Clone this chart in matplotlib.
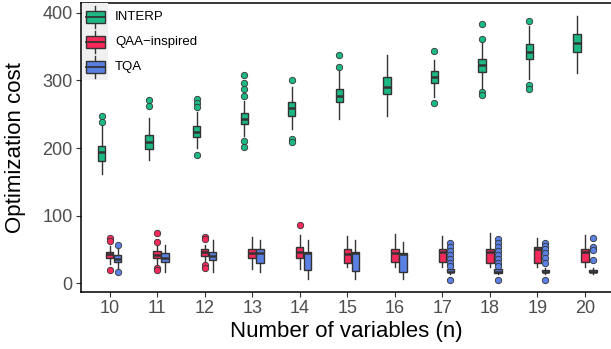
import matplotlib
matplotlib.use("Agg")
import matplotlib.pyplot as plt
from matplotlib.patches import Rectangle
from matplotlib.lines import Line2D

plt.rcParams['font.family'] = ['Liberation Sans', 'DejaVu Sans']

n_vars = [10, 11, 12, 13, 14, 15, 16, 17, 18, 19, 20]
groups = ['INTERP', 'QAA\u2212inspired', 'TQA']
colors = ['#1db985', '#f42a5b', '#5b80e4']

# box stats: median, q1, q3, whisker low, whisker high, outliers
interp_med = [194, 209, 224, 243, 259, 277, 290, 305, 323, 342, 356]
interp_q1 = [181, 199, 216, 236, 247, 268, 280, 296, 313, 332, 342]
interp_q3 = [203, 219, 233, 252, 268, 287, 305, 314, 332, 354, 369]
interp_lo = [161, 182, 200, 218, 228, 243, 247, 276, 286, 302, 311]
interp_hi = [234, 244, 253, 270, 290, 314, 338, 330, 357, 380, 396]
interp_out = [[247, 238], [271, 262], [273, 267, 261, 190],
              [308, 296, 287, 277, 211, 201], [301, 213, 209], [338, 320], [],
              [344, 267], [384, 361, 283, 278], [388, 293, 287], []]

qaa_med = [43, 41, 46, 44, 46, 43, 44, 46, 46, 51, 46]
qaa_q1 = [37, 37, 40, 37, 37, 30, 31, 31, 30, 30, 31]
qaa_q3 = [46, 47, 50, 50, 53, 50, 50, 50, 50, 53, 50]
qaa_lo = [28, 28, 33, 21, 21, 24, 24, 24, 24, 24, 24]
qaa_hi = [55, 55, 56, 68, 71, 70, 73, 70, 74, 67, 71]
qaa_out = [[67, 62, 19], [74, 61, 22, 19], [68, 65, 27, 22], [], [86],
           [], [], [], [], [], []]

tqa_med = [36, 37, 40, 44, 44, 44, 43, 17, 17, 17, 17]
tqa_q1 = [31, 31, 34, 29, 19, 18, 16, 16, 15, 16, 16]
tqa_q3 = [41, 44, 46, 50, 46, 46, 44, 21, 21, 20, 20]
tqa_lo = [22, 16, 16, 16, 6, 6, 6, 14, 13, 14, 14]
tqa_hi = [50, 56, 64, 64, 64, 64, 61, 23, 23, 22, 22]
tqa_out = [[56, 16], [], [], [], [], [], [],
           [59, 53, 47, 41, 36, 30, 25, 4],
           [65, 59, 53, 47, 41, 36, 30, 25, 4],
           [59, 55, 50, 44, 37, 30, 4],
           [67, 53, 49, 34]]

series = [
    (interp_med, interp_q1, interp_q3, interp_lo, interp_hi, interp_out),
    (qaa_med, qaa_q1, qaa_q3, qaa_lo, qaa_hi, qaa_out),
    (tqa_med, tqa_q1, tqa_q3, tqa_lo, tqa_hi, tqa_out),
]
offsets = [-0.168, 0.0, 0.168]
edge = '#333333'

W, H = 611, 349
fig = plt.figure(figsize=(W / 100, H / 100), dpi=100)
ax = fig.add_axes([81 / W, 1 - 292 / H, (611 - 81) / W, (292 - 3) / H])

for (med, q1, q3, lo, hi, out), off, col in zip(series, offsets, colors):
    stats = []
    for i in range(len(n_vars)):
        stats.append(dict(med=med[i], q1=q1[i], q3=q3[i], whislo=lo[i],
                          whishi=hi[i], fliers=out[i]))
    ax.bxp(stats, positions=[n + off for n in n_vars], widths=0.155,
           patch_artist=True, showcaps=False, manage_ticks=False,
           boxprops=dict(facecolor=col, edgecolor=edge, linewidth=1.0),
           whiskerprops=dict(color=edge, linewidth=1.0),
           medianprops=dict(color=edge, linewidth=1.8),
           flierprops=dict(marker='o', markerfacecolor=col, markeredgecolor=edge,
                           markeredgewidth=0.6, markersize=4.6, linestyle='none'))

ax.set_xlim(9.4, 20.546)
ax.set_ylim(-13.3, 414.8)
ax.set_xticks(n_vars)
ax.set_xticklabels([str(n) for n in n_vars])
ax.set_yticks([0, 100, 200, 300, 400])
ax.tick_params(axis='both', labelsize=13, labelcolor='#4d4d4d', color='#333333',
               length=3.5, width=0.8, pad=2.5)
ax.spines['right'].set_visible(False)
for s in ['left', 'bottom', 'top']:
    ax.spines[s].set_linewidth(1.1)
    ax.spines[s].set_color('black')

ax.set_xlabel('Number of variables (n)', fontsize=16)
ax.set_ylabel('Optimization cost', fontsize=16)
ax.xaxis.set_label_coords(0.5, -(321 - 292) / (292 - 3))
ax.yaxis.set_label_coords(-(81 - 26) / (611 - 81), 0.5)

# legend drawn by hand in figure pixels, ggplot-style keys
def px(x, y):
    return x / W, 1 - y / H

kx0, kx1, ky0, ky1 = 82, 108, 3, 80
fig.patches.append(Rectangle(px(kx0, ky1), (kx1 - kx0) / W, (ky1 - ky0) / H,
                             transform=fig.transFigure, facecolor='#f0f0f0',
                             edgecolor='none', zorder=5))
key_y = [17, 42, 67]
for ky, col, lab in zip(key_y, colors, groups):
    cx = 95
    fig.lines.append(Line2D([cx / W, cx / W], [1 - (ky - 11) / H, 1 - (ky + 11) / H],
                            transform=fig.transFigure, color=edge, lw=1.0, zorder=6))
    fig.patches.append(Rectangle(px(86, ky + 6), 19 / W, 12 / H,
                                 transform=fig.transFigure, facecolor=col,
                                 edgecolor=edge, lw=1.0, zorder=7))
    fig.lines.append(Line2D([86 / W, 105 / W], [1 - ky / H, 1 - ky / H],
                            transform=fig.transFigure, color=edge, lw=1.3, zorder=8))
    fig.text(115 / W, 1 - ky / H, lab, fontsize=9.5, va='center', ha='left',
             color='black', zorder=9)

fig.savefig('out.png', dpi=100)
